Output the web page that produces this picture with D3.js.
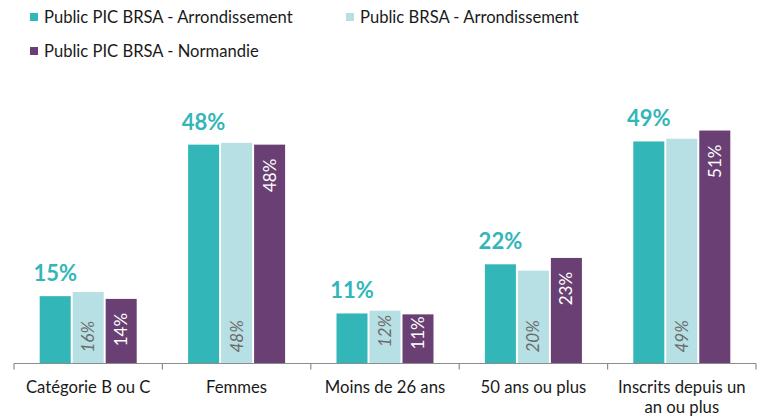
<!DOCTYPE html>
<html>
<head>
<meta charset="utf-8">
<script src="https://cdn.jsdelivr.net/npm/d3@7"></script>
<style>
  body { margin: 0; background: #fff; }
  svg { display: block; font-family: Lato, "Open Sans", sans-serif; }
</style>
</head>
<body>
<div id="chart"></div>
<script>
// categories and series
var categories = ["Catégorie B ou C", "Femmes", "Moins de 26 ans", "50 ans ou plus", "Inscrits depuis un an ou plus"];
var seriesNames = ["Public PIC BRSA - Arrondissement", "Public BRSA - Arrondissement", "Public PIC BRSA - Normandie"];
var picArr = [14.8, 48.1, 11.0, 21.8, 48.8];
var brsaArr = [15.7, 48.5, 11.6, 20.4, 49.4];
var picNorm = [14.2, 48.1, 10.8, 23.2, 51.2];
var picArrLabels = ["15%", "48%", "11%", "22%", "49%"];
var brsaArrLabels = ["16%", "48%", "12%", "20%", "49%"];
var picNormLabels = ["14%", "48%", "11%", "23%", "51%"];

var colors = ["#33b6b8", "#b6e0e3", "#6a3f74"];

var width = 759, height = 417;
var svg = d3.select("#chart").append("svg")
  .attr("width", width)
  .attr("height", height);

var baseY = 363.5;

var x0 = d3.scaleBand()
  .domain(categories)
  .range([14, 756]);

var x1 = d3.scaleBand()
  .domain(seriesNames)
  .range([x0.bandwidth() / 2 - 48.5, x0.bandwidth() / 2 + 48.5])
  .paddingInner(0.06);

var y = d3.scaleLinear()
  .domain([0, 60])
  .range([baseY, baseY - 273]);

// rows of data, one per category
var rows = categories.map(function(c, i) {
  return {
    cat: c,
    vals: [picArr[i], brsaArr[i], picNorm[i]],
    labels: [picArrLabels[i], brsaArrLabels[i], picNormLabels[i]]
  };
});

var groups = svg.selectAll(".grp")
  .data(rows).enter()
  .append("g").attr("class", "grp")
  .attr("transform", function(d) { return "translate(" + x0(d.cat) + ",0)"; });

groups.selectAll("rect")
  .data(function(d) { return d.vals.map(function(v, j) { return {v: v, s: seriesNames[j], j: j}; }); })
  .enter().append("rect")
  .attr("x", function(d) { return x1(d.s); })
  .attr("y", function(d) { return y(d.v); })
  .attr("width", x1.bandwidth())
  .attr("height", function(d) { return baseY - y(d.v); })
  .style("fill", function(d) { return colors[d.j]; });

// teal labels above first bar
groups.append("text")
  .attr("x", x1(seriesNames[0]) + x1.bandwidth() / 2)
  .attr("y", function(d) { return y(d.vals[0]) - 15; })
  .attr("text-anchor", "middle")
  .style("font-size", "22px")
  .style("font-weight", "bold")
  .style("fill", "#33b6b8")
  .text(function(d) { return d.labels[0]; });

// short bars get their rotated label centred instead
function isShort(v) { return baseY - y(v) < 60; }
function midY(v) { return (y(v) + baseY) / 2 - 6; }

// light bar labels: rotated, italic, near base
groups.append("text")
  .attr("transform", function(d) {
    var v = d.vals[1];
    var ty = isShort(v) ? midY(v) : baseY - 11;
    return "translate(" + (x1(seriesNames[1]) + x1.bandwidth() / 2 + 6) + "," + ty + ") rotate(-90)";
  })
  .attr("text-anchor", function(d) { return isShort(d.vals[1]) ? "middle" : "start"; })
  .style("font-size", "17px")
  .style("font-style", "italic")
  .style("fill", "#6b6b6b")
  .text(function(d) { return d.labels[1]; });

// purple bar labels: rotated, white, near top
groups.append("text")
  .attr("transform", function(d) {
    var v = d.vals[2];
    var ty = isShort(v) ? midY(v) : y(v) + 14;
    return "translate(" + (x1(seriesNames[2]) + x1.bandwidth() / 2 + 6) + "," + ty + ") rotate(-90)";
  })
  .attr("text-anchor", function(d) { return isShort(d.vals[2]) ? "middle" : "end"; })
  .style("font-size", "17px")
  .style("fill", "#ffffff")
  .text(function(d) { return d.labels[2]; });

// axis
var axis = svg.append("g")
  .attr("transform", "translate(0," + baseY + ")");
axis.append("line")
  .attr("x1", 14).attr("x2", 756)
  .style("stroke", "#8c8c8c").style("stroke-width", 1.2);
axis.selectAll(".tk")
  .data(categories.concat(["end"])).enter()
  .append("line").attr("class", "tk")
  .attr("x1", function(d, i) { return 14 + i * x0.step(); })
  .attr("x2", function(d, i) { return 14 + i * x0.step(); })
  .attr("y1", 0).attr("y2", 6)
  .style("stroke", "#8c8c8c").style("stroke-width", 1.2);

// category labels, wrapped
var catLines = {
  "Inscrits depuis un an ou plus": ["Inscrits depuis un", "an ou plus"]
};
groups.append("text")
  .attr("x", x0.bandwidth() / 2)
  .attr("y", 393)
  .attr("text-anchor", "middle")
  .style("font-size", "16.7px")
  .style("fill", "#1a1a1a")
  .each(function(d) {
    var lines = catLines[d.cat] || [d.cat];
    var t = d3.select(this);
    lines.forEach(function(l, k) {
      t.append("tspan").attr("x", x0.bandwidth() / 2).attr("dy", k === 0 ? 0 : 20).text(l);
    });
  });

// legend
var legendPos = [[30, 13], [346, 13], [30, 47]];
var legend = svg.selectAll(".leg")
  .data(seriesNames).enter()
  .append("g").attr("class", "leg")
  .attr("transform", function(d, i) { return "translate(" + legendPos[i][0] + "," + legendPos[i][1] + ")"; });
legend.append("rect")
  .attr("width", 8).attr("height", 8)
  .style("fill", function(d, i) { return colors[i]; });
legend.append("text")
  .attr("x", 14).attr("y", 9.5)
  .style("font-size", "16.6px")
  .style("fill", "#1a1a1a")
  .text(function(d) { return d; });
</script>
</body>
</html>
